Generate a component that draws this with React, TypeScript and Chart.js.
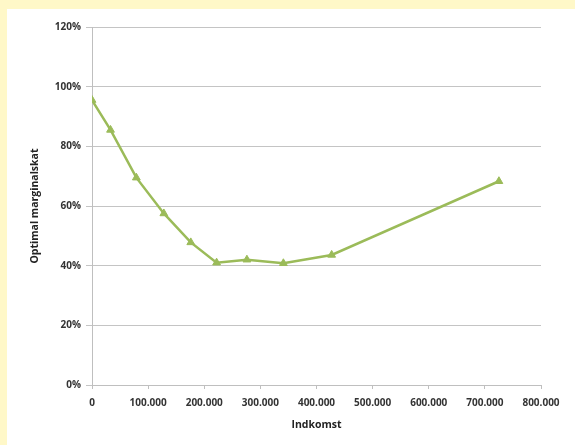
import React, { useEffect, useRef } from "react";
import { Chart, registerables } from "chart.js";

Chart.register(...registerables);

const incomes = [0, 33000, 79000, 128000, 176000, 222000, 276000, 341000, 427000, 725000];
const rates = [95.5, 85.5, 69.5, 57.5, 47.8, 41.0, 42.0, 40.8, 43.6, 68.3];
const yTicks = [0, 20, 40, 60, 80, 100, 120];
const xTicks = [0, 100000, 200000, 300000, 400000, 500000, 600000, 700000, 800000];
const xTitle = "Indkomst";
const yTitle = "Optimal marginalskat";

const fmtThousands = (v: number) =>
  v === 0 ? "0" : String(Math.round(v)).replace(/\B(?=(\d{3})+(?!\d))/g, ".");

export default function App() {
  const ref = useRef<HTMLCanvasElement>(null);
  useEffect(() => {
    document.body.style.margin = "0";
    const ctx = ref.current!;
    const font = { family: "'Open Sans', 'Liberation Sans', sans-serif", size: 10, weight: "bold" as const };
    const chart = new Chart(ctx, {
      type: "scatter",
      data: {
        datasets: [
          {
            data: incomes.map((x, i) => ({ x, y: rates[i] })),
            showLine: true,
            borderColor: "#9BBB59",
            backgroundColor: "#9BBB59",
            borderWidth: 2.5,
            pointStyle: "triangle",
            pointRadius: 4.5,
            pointBorderWidth: 1,
            tension: 0,
          },
        ],
      },
      options: {
        animation: false,
        responsive: false,
        layout: { padding: { left: 29, right: 34, top: 27, bottom: 14 } },
        plugins: { legend: { display: false }, tooltip: { enabled: false } },
        scales: {
          x: {
            type: "linear",
            min: 0,
            max: 800000,
            afterBuildTicks: (s: any) => {
              s.ticks = xTicks.map((v) => ({ value: v }));
            },
            afterFit: (s: any) => {
              s.height = 46;
            },
            grid: { drawOnChartArea: false, drawTicks: true, tickLength: 4, color: "#bfbfbf" },
            border: { color: "#bfbfbf", width: 1 },
            ticks: {
              color: "#333333",
              font,
              padding: 8,
              maxRotation: 0,
              autoSkip: false,
              callback: (v: any) => fmtThousands(Number(v)),
            },
            title: { display: true, text: xTitle, color: "#222222", font: { ...font, size: 10.5 }, padding: { top: 4, bottom: 0 } },
          },
          y: {
            type: "linear",
            min: 0,
            max: 120,
            afterBuildTicks: (s: any) => {
              s.ticks = yTicks.map((v) => ({ value: v }));
            },
            afterFit: (s: any) => {
              s.width = 63;
            },
            grid: { color: "#c4c4c4", lineWidth: 1, tickLength: 6 },
            border: { color: "#bfbfbf", width: 1 },
            ticks: {
              color: "#333333",
              font,
              padding: 5,
              callback: (v: any) => v + "%",
            },
            title: { display: true, text: yTitle, color: "#222222", font: { ...font, size: 10.5 }, padding: { top: 0, bottom: 4 } },
          },
        },
      },
    });
    return () => chart.destroy();
  }, []);
  return (
    <div style={{ position: "fixed", left: 0, top: 0, width: 575, height: 445, background: "#FFF8C8", overflow: "hidden" }}>
      <div style={{ position: "absolute", left: 7, top: 9, width: 568, height: 436, background: "#ffffff" }} />
      <canvas ref={ref} width={575} height={445} style={{ position: "absolute", left: 0, top: 0, width: 575, height: 445 }} />
    </div>
  );
}
